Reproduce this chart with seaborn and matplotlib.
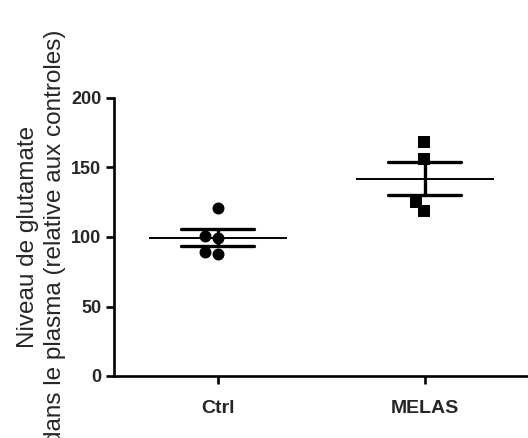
import numpy as np
import pandas as pd
import matplotlib
matplotlib.use("Agg")
import matplotlib.pyplot as plt
import seaborn as sns

# Données (niveau relatif aux contrôles)
groups = ["Ctrl", "MELAS"]
ctrl_values = [121, 99, 101, 88, 89]
melas_values = [168, 156, 125, 119]
y_ticks = [0, 50, 100, 150, 200]

df = pd.DataFrame({
    "group": ["Ctrl"] * len(ctrl_values) + ["MELAS"] * len(melas_values),
    "value": ctrl_values + melas_values,
})

sns.set_style("ticks")
plt.rcParams["font.family"] = ["Liberation Sans", "DejaVu Sans"]

fig = plt.figure(figsize=(5.28, 4.38), dpi=100)
ax = fig.add_axes([114 / 528, 62 / 438, 1 - 114 / 528, 278 / 438])

# Points individuels (rond pour Ctrl, carré pour MELAS)
sns.swarmplot(data=df[df.group == "Ctrl"], x="group", y="value", order=groups,
              color="black", marker="o", size=8.6, linewidth=0, ax=ax)
sns.swarmplot(data=df[df.group == "MELAS"], x="group", y="value", order=groups,
              color="black", marker="s", size=8.6, linewidth=0, ax=ax)

# Moyenne +/- SEM
sns.pointplot(data=df, x="group", y="value", order=groups,
              errorbar="se", capsize=0.35, linestyle="none",
              marker="_", markersize=100, markeredgewidth=1.4,
              color="black", err_kws={"linewidth": 2.4}, ax=ax)

ax.set_xlim(-0.5, 1.5)
ax.set_ylim(0, 200)
ax.set_yticks(y_ticks)
ax.set_xlabel("")
ax.set_ylabel("Niveau de glutamate\ndans le plasma (relative aux controles)",
              fontsize=17.5, linespacing=1.3, labelpad=4)

for s in ["top", "right"]:
    ax.spines[s].set_visible(False)
for s in ["left", "bottom"]:
    ax.spines[s].set_linewidth(1.9)
    ax.spines[s].set_color("black")

ax.tick_params(axis="both", length=6, width=1.9, color="black")
ax.tick_params(axis="y", labelsize=13, pad=3)
ax.tick_params(axis="x", labelsize=14, pad=11)
for lab in ax.get_xticklabels() + ax.get_yticklabels():
    lab.set_fontweight("bold")

fig.savefig("out.png", dpi=100)
